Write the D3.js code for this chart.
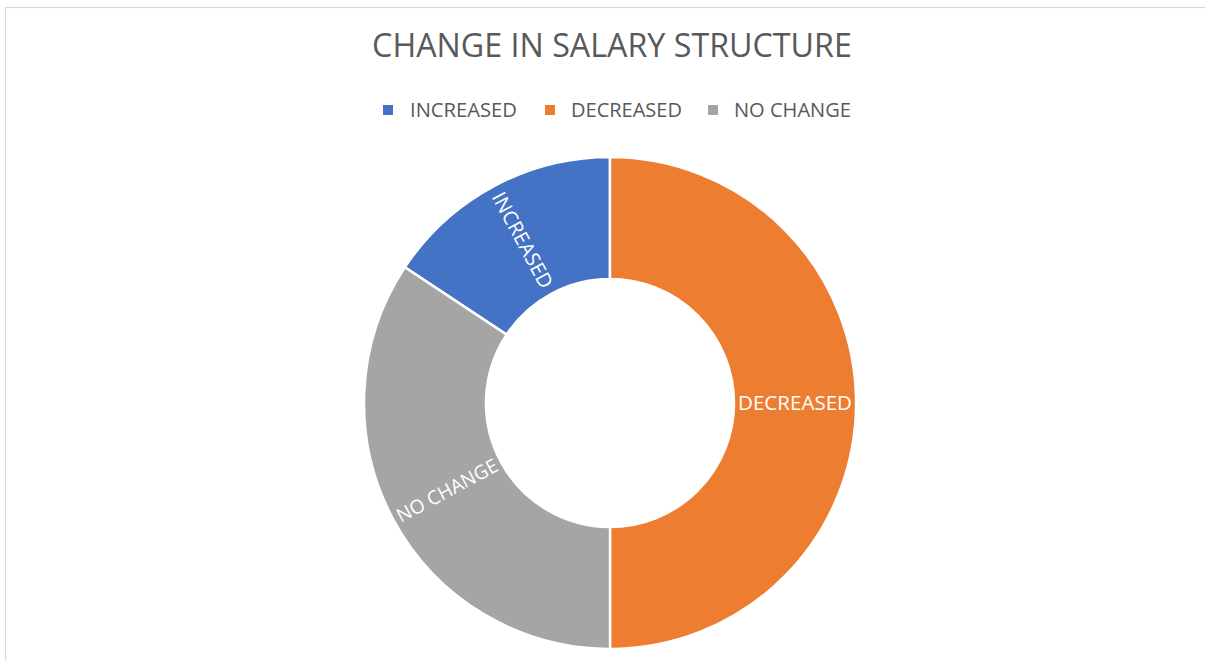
<!DOCTYPE html>
<html>
<head>
<meta charset="utf-8">
<script src="https://cdn.jsdelivr.net/npm/d3@7"></script>
<style>
  html, body { margin: 0; padding: 0; background: #fff; }
  svg { display: block; }
  text { font-family: "Open Sans", "Noto Sans", sans-serif; }
</style>
</head>
<body>
<svg id="chart" width="1205" height="661"></svg>
<script>
const title = "CHANGE IN SALARY STRUCTURE";
const categories = ["INCREASED", "DECREASED", "NO CHANGE"];
const values = [15.7, 50, 34.3];
const colors = ["#4472C4", "#ED7D31", "#A5A5A5"];

const W = 1205, H = 661;
const svg = d3.select("#chart");

// chart border
svg.append("rect")
  .attr("x", 5.5).attr("y", 7.5)
  .attr("width", W + 10).attr("height", H + 10)
  .attr("fill", "#fff").attr("stroke", "#d9d9d9").attr("stroke-width", 1.2);

// fit a text element to a target width
function fit(sel, targetW, baseSize) {
  sel.attr("font-size", baseSize);
  const w = sel.node().getComputedTextLength();
  sel.attr("font-size", baseSize * targetW / w);
}

// title
const t = svg.append("text")
  .attr("x", 612).attr("y", 57)
  .attr("text-anchor", "middle")
  .attr("fill", "#595959")
  .text(title);
fit(t, 480, 30);

// legend
const legendPos = [
  { sq: 383, tx: 410, tw: 107 },
  { sq: 545, tx: 571, tw: 111 },
  { sq: 708, tx: 734, tw: 117 }
];
const legend = svg.append("g");
categories.forEach((c, i) => {
  const p = legendPos[i];
  legend.append("rect")
    .attr("x", p.sq).attr("y", 105)
    .attr("width", 10).attr("height", 10)
    .attr("fill", colors[i]);
  const lt = legend.append("text")
    .attr("x", p.tx).attr("y", 117)
    .attr("fill", "#595959")
    .text(c);
  fit(lt, p.tw, 17);
});

// doughnut
const cx = 610, cy = 403, rOuter = 246, rInner = 124;
const total = d3.sum(values);
const startOffset = -2 * Math.PI * values[0] / total;
const pie = d3.pie().sort(null).value(d => d)
  .startAngle(startOffset).endAngle(startOffset + 2 * Math.PI);
const arcs = pie(values);
const arc = d3.arc().innerRadius(rInner).outerRadius(rOuter);

const g = svg.append("g").attr("transform", `translate(${cx},${cy})`);
g.selectAll("path.slice").data(arcs).enter().append("path")
  .attr("class", "slice")
  .attr("d", arc)
  .attr("fill", (d, i) => colors[i])
  .attr("stroke", "#fff")
  .attr("stroke-width", 2.5);

// data labels, rotated radially and kept upright
const labelArc = d3.arc().innerRadius((rInner + rOuter) / 2).outerRadius((rInner + rOuter) / 2);
g.selectAll("text.lbl").data(arcs).enter().append("text")
  .attr("class", "lbl")
  .attr("transform", d => {
    const [x, y] = labelArc.centroid(d);
    const mid = (d.startAngle + d.endAngle) / 2;
    let deg = mid * 180 / Math.PI - 90;
    while (deg > 90) deg -= 180;
    while (deg < -90) deg += 180;
    return `translate(${x},${y}) rotate(${deg})`;
  })
  .attr("text-anchor", "middle")
  .attr("dy", "0.35em")
  .attr("fill", "#ffffff")
  .attr("font-size", 17)
  .text((d, i) => categories[i])
  .each(function(d, i) {
    const sel = d3.select(this);
    fit(sel, [106, 114, 112][i], 17);
  });
</script>
</body>
</html>
